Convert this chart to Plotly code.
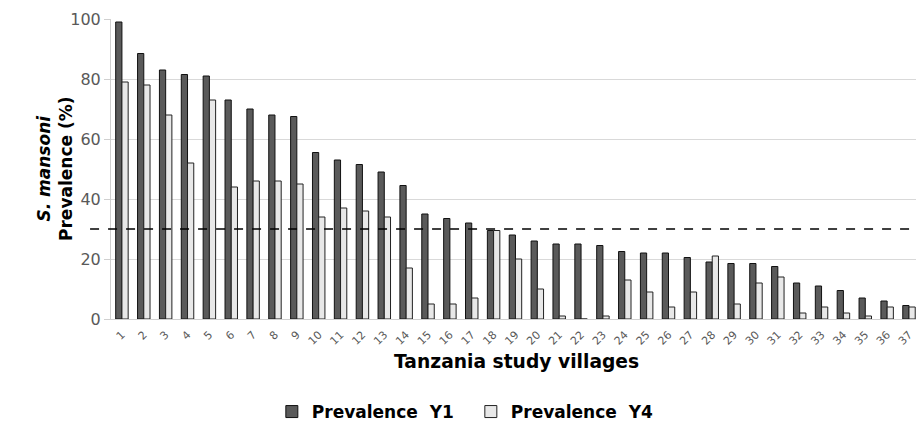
import plotly.graph_objects as go

villages = list(range(1, 38))
tick_labels = [str(v) for v in villages]
prev_y1 = [99, 88.5, 83, 81.5, 81, 73, 70, 68, 67.5, 55.5, 53, 51.5, 49, 44.5, 35, 33.5, 32,
           29.5, 28, 26, 25, 25, 24.5, 22.5, 22, 22, 20.5, 19, 18.5, 18.5, 17.5, 12, 11, 9.5, 7, 6, 4.5]
prev_y4 = [79, 78, 68, 52, 73, 44, 46, 46, 45, 34, 37, 36, 34, 17, 5, 5, 7,
           29.5, 20, 10, 1, 0, 1, 13, 9, 4, 9, 21, 5, 12, 14, 2, 4, 2, 1, 4, 4]
threshold = 30

FONT = "DejaVu Sans"

fig = go.Figure()
fig.add_trace(go.Bar(x=villages, y=prev_y1, name="Prevalence  Y1",
                     marker=dict(color="#5a5a5a", line=dict(color="#111111", width=1))))
fig.add_trace(go.Bar(x=villages, y=prev_y4, name="Prevalence  Y4",
                     marker=dict(color="#e8e8e8", line=dict(color="#222222", width=1))))

fig.add_shape(type="line", xref="paper", yref="y", x0=-0.026, x1=1.0, y0=threshold, y1=threshold,
              line=dict(color="black", width=1.5, dash="dash"), layer="above")

fig.add_annotation(xref="paper", yref="paper", x=-0.0696, y=0.5, xanchor="center", yanchor="middle",
                   text="<i>S. mansoni</i><br>Prevalence (%)", textangle=-90, showarrow=False,
                   font=dict(family=FONT, size=17, color="black", weight="bold"))

fig.add_annotation(xref="paper", yref="paper", x=0.504, y=-0.14, xanchor="center", yanchor="middle",
                   text="Tanzania study villages", showarrow=False,
                   font=dict(family=FONT, size=18.7, color="black", weight="bold"))

fig.update_layout(
    width=916, height=428,
    margin=dict(l=111, r=0, t=19, b=109, autoexpand=False),
    paper_bgcolor="white", plot_bgcolor="white",
    barmode="group", bargap=0.43, bargroupgap=0,
    font=dict(family=FONT, color="#595959"),
    showlegend=True,
    legend=dict(orientation="h", x=0.447, y=-0.31, xanchor="center", yanchor="middle",
                font=dict(family=FONT, size=17, color="black", weight="bold"),
                itemwidth=30, entrywidth=154, traceorder="normal"),
    xaxis=dict(range=[0.5, 37.32], tickmode="array", tickvals=villages, ticktext=tick_labels,
               tickangle=-45, tickfont=dict(size=11, color="#595959"), showgrid=False,
               ticklabelstandoff=4,
               showline=True, linecolor="#d0d0d0", linewidth=1, ticks="", automargin=False),
    yaxis=dict(range=[0, 100], tickvals=[0, 20, 40, 60, 80, 100], showgrid=True,
               gridcolor="#d9d9d9", gridwidth=1, showline=True, linecolor="#d0d0d0",
               ticks="outside", ticklen=6, tickcolor="#d0d0d0", automargin=False,
               tickfont=dict(size=16, color="#595959"), zeroline=False),
)

fig.write_html("out.html", config={"displayModeBar": False},
               post_script="document.body.style.margin='0';document.body.style.overflow='hidden';")
